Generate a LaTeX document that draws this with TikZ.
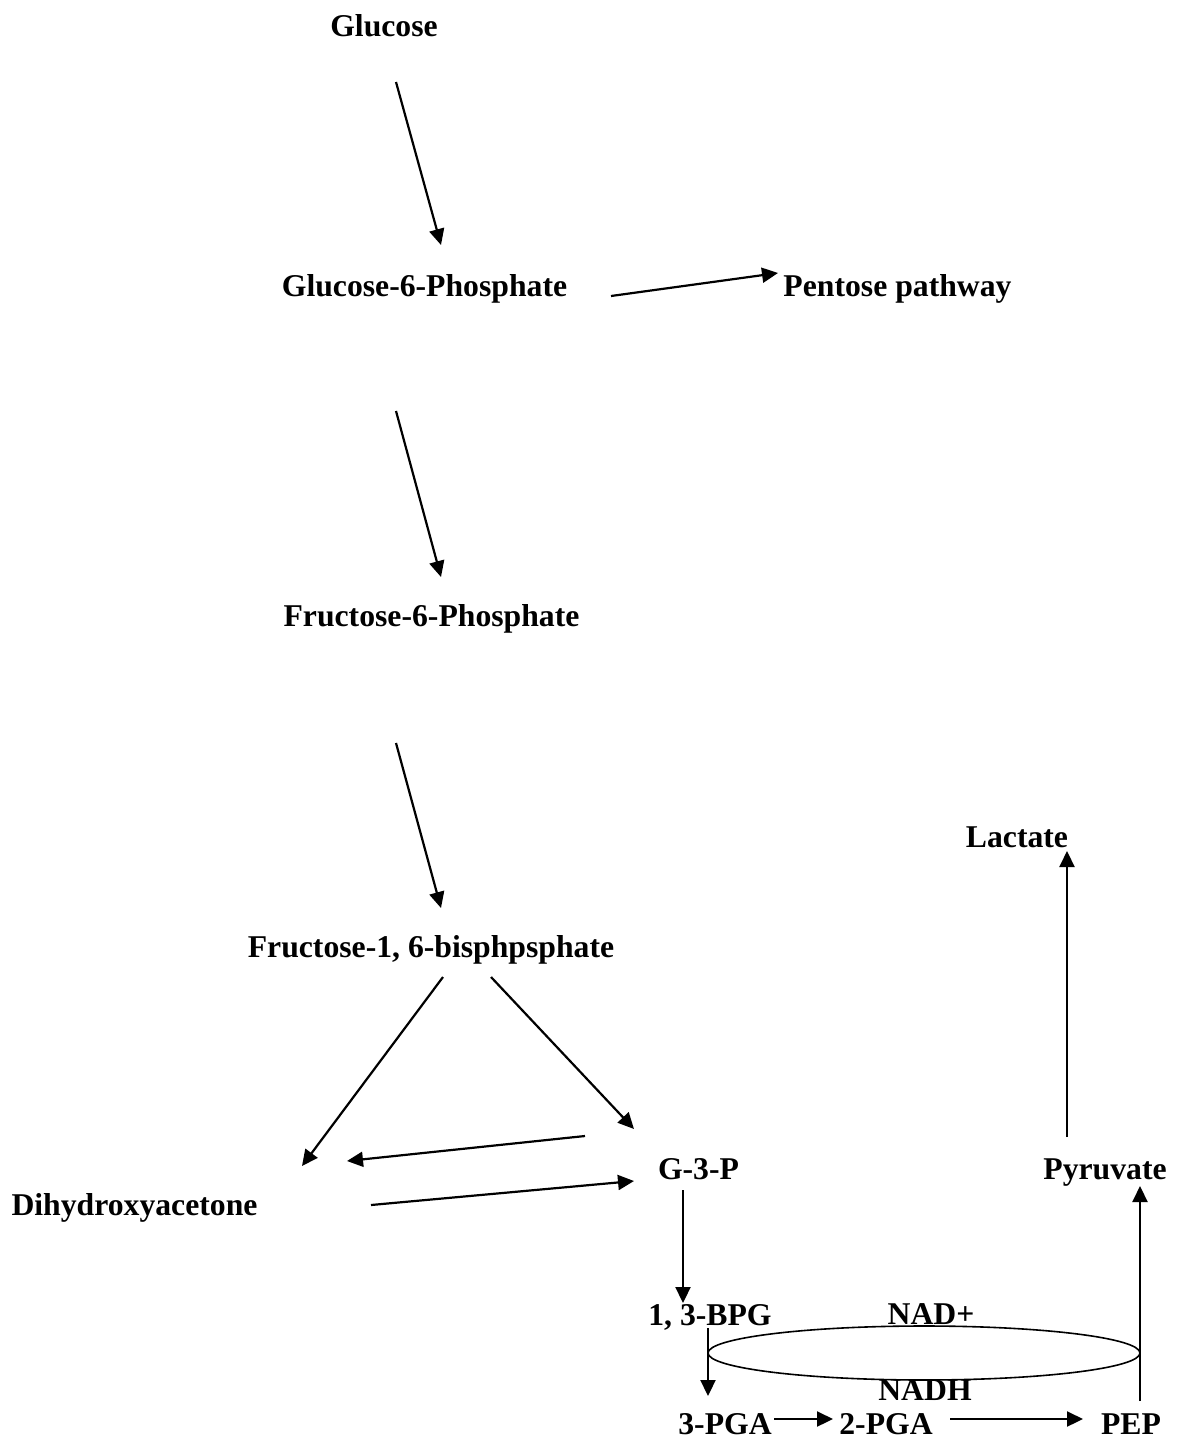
\documentclass[tikz,border=0pt]{standalone}
\usepackage{fontspec}
\setmainfont{Liberation Serif}
\usetikzlibrary{arrows.meta}
\begin{document}
\begin{tikzpicture}[x=0.5pt,y=-0.5pt,
  lbl/.style={anchor=base,inner sep=0pt,font=\fontsize{15.85}{19}\selectfont\bfseries},
  conn/.style={line width=1.1pt,-{Triangle[length=8pt,width=7.5pt]}},
  plain/.style={line width=0.8pt}]
\useasboundingbox (0,0) rectangle (1177,1441);
% labels
\node[lbl] (glc) at (384,36) {Glucose};
\node[lbl] (g6p) at (424.5,296) {Glucose-6-Phosphate};
\node[lbl] (pent) at (897.5,296) {Pentose pathway};
\node[lbl] (f6p) at (431.5,626) {Fructose-6-Phosphate};
\node[lbl] (f16) at (431,957) {Fructose-1, 6-bisphpsphate};
\node[lbl] (lac) at (1017,847) {Lactate};
\node[lbl] (g3p) at (698.5,1179) {G-3-P};
\node[lbl] (pyr) at (1105,1179) {Pyruvate};
\node[lbl] (dha) at (134.5,1215) {Dihydroxyacetone};
\node[lbl] (bpg) at (710,1325) {1, 3-BPG};
\node[lbl] (nad) at (931,1324) {NAD+};
\node[lbl] (nadh) at (925,1400) {NADH};
\node[lbl] (pga3) at (725,1434) {3-PGA};
\node[lbl] (pga2) at (886,1434) {2-PGA};
\node[lbl] (pep) at (1131,1434) {PEP};
% connector end points
\coordinate (a1s) at (396,82);   \coordinate (a1e) at (441,245);
\coordinate (a2s) at (396,411);  \coordinate (a2e) at (441,577);
\coordinate (a3s) at (396,743);  \coordinate (a3e) at (441,908);
\coordinate (pps) at (611,296);  \coordinate (ppe) at (778,273);
\coordinate (l1s) at (443,977);  \coordinate (l1e) at (302,1166);
\coordinate (r1s) at (491,977);  \coordinate (r1e) at (634,1129);
\coordinate (bks) at (585,1136); \coordinate (bke) at (347,1161);
\coordinate (fws) at (371,1205); \coordinate (fwe) at (634,1181);
\coordinate (gds) at (683,1190); \coordinate (gde) at (683,1303);
\coordinate (bds) at (708,1328); \coordinate (bde) at (708,1396);
\coordinate (p1s) at (774,1419); \coordinate (p1e) at (833,1419);
\coordinate (p2s) at (950,1419); \coordinate (p2e) at (1083,1419);
\coordinate (pus) at (1140,1401);\coordinate (pue) at (1140,1186);
\coordinate (las) at (1067,1137);\coordinate (lae) at (1067,851);
\coordinate (ell) at (924,1353);
% connectors
\draw[conn] (a1s) -- (a1e);
\draw[conn] (a2s) -- (a2e);
\draw[conn] (a3s) -- (a3e);
\draw[conn] (pps) -- (ppe);
\draw[conn] (l1s) -- (l1e);
\draw[conn] (r1s) -- (r1e);
\draw[conn] (bks) -- (bke);
\draw[conn] (fws) -- (fwe);
\draw[conn] (gds) -- (gde);
\draw[conn] (bds) -- (bde);
\draw[conn] (p1s) -- (p1e);
\draw[conn] (p2s) -- (p2e);
\draw[conn] (pus) -- (pue);
\draw[conn] (las) -- (lae);
\draw[plain] (ell) ellipse [x radius=216, y radius=27];
\end{tikzpicture}
\end{document}
